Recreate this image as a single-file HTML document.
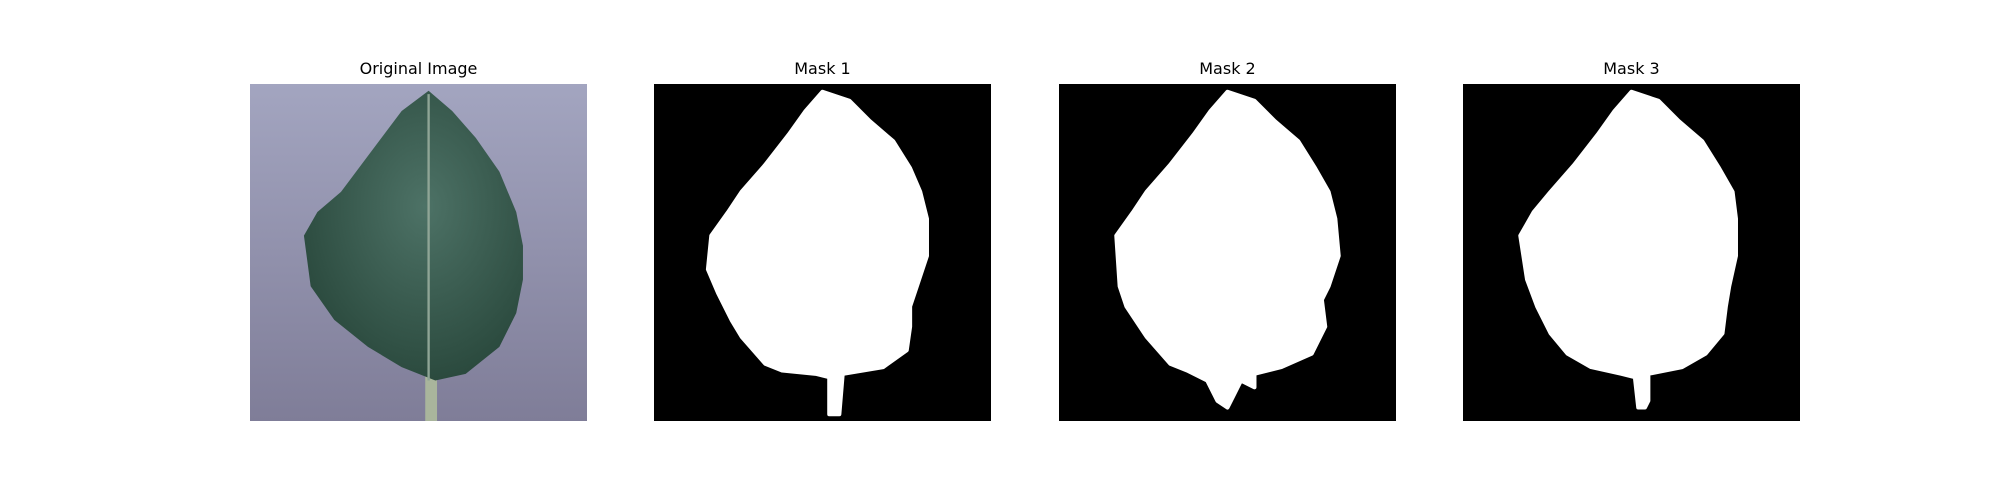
<!DOCTYPE html>
<html><head><meta charset="utf-8"><style>
body{margin:0;background:#fff;width:2000px;height:500px;position:relative;overflow:hidden;font-family:"DejaVu Sans","Liberation Sans",sans-serif}
.ttl{position:absolute;top:59px;width:337px;text-align:center;font-size:16px;color:#000}
svg.p{position:absolute;top:84px;width:337px;height:337px}
</style></head><body>
<div class="ttl" style="left:250px">Original Image</div>
<div class="ttl" style="left:654px">Mask 1</div>
<div class="ttl" style="left:1059px">Mask 2</div>
<div class="ttl" style="left:1463px">Mask 3</div>

<svg class="p" style="left:250px" viewBox="0 0 100 100" preserveAspectRatio="none">
<defs><linearGradient id="bg" x1="0" y1="0" x2="0" y2="1"><stop offset="0" stop-color="#a3a5c0"/><stop offset="1" stop-color="#7f7d98"/></linearGradient>
<radialGradient id="lf" cx="0.55" cy="0.4" r="0.6"><stop offset="0" stop-color="#4d7266"/><stop offset="1" stop-color="#2b4a3e"/></radialGradient></defs>
<rect width="100" height="100" fill="url(#bg)"/>
<rect x="52" y="85" width="3.5" height="15" fill="#a9b59c"/>
<path d="M53,2 L60,8 L67,16 L74,26 L79,38 L81,48 L81,58 L79,68 L74,78 L64,86 L55,88 L45,84 L35,78 L25,70 L18,60 L16,45 L20,38 L27,32 L33,24 L45,8 Z" fill="url(#lf)"/>
<line x1="53" y1="3" x2="53" y2="88" stroke="#8fa596" stroke-width="0.7"/>
</svg>

<svg class="p" style="left:654px" viewBox="0 0 100 100" preserveAspectRatio="none">
<rect width="100" height="100" fill="#000"/>
<path d="M50,2.3 L58,5 L64,11 L71,17 L76,25 L79,32 L81,40 L81,51 L78,60 L76,66 L76,72 L75,79 L68,84 L56,86 L55,98 L52,98 L52,87 L48,86 L38,85 L33,83 L26,75 L23,70 L19,62 L16,55 L17,45 L22,38 L26,32 L33,24 L40,15 L45,8 Z" fill="#fff" stroke="#fff" stroke-width="1.2" stroke-linejoin="round"/>
</svg>

<svg class="p" style="left:1059px" viewBox="0 0 100 100" preserveAspectRatio="none">
<rect width="100" height="100" fill="#000"/>
<path d="M50,2.3 L58,5 L64,11 L71,17 L76,25 L80,32 L82,40 L83,51 L80,60 L78,64 L79,72 L75,80 L66,84 L58,86 L58,90 L54,88 L52,92 L50,96 L47,94 L44,88 L38,85 L33,83 L26,75 L20,66 L18,60 L17,45 L22,38 L26,32 L33,24 L40,15 L45,8 Z" fill="#fff" stroke="#fff" stroke-width="1.2" stroke-linejoin="round"/>
</svg>

<svg class="p" style="left:1463px" viewBox="0 0 100 100" preserveAspectRatio="none">
<rect width="100" height="100" fill="#000"/>
<path d="M50,2.3 L58,5 L64,11 L71,17 L76,25 L80,32 L81,40 L81,51 L79,60 L78,66 L77,74 L72,80 L65,84 L55,86 L55,94 L54,96 L52,96 L51,87 L47,86 L38,84 L31,80 L26,74 L22,66 L19,58 L17,45 L21,38 L26,32 L33,24 L40,15 L45,8 Z" fill="#fff" stroke="#fff" stroke-width="1.2" stroke-linejoin="round"/>
</svg>
</body></html>
